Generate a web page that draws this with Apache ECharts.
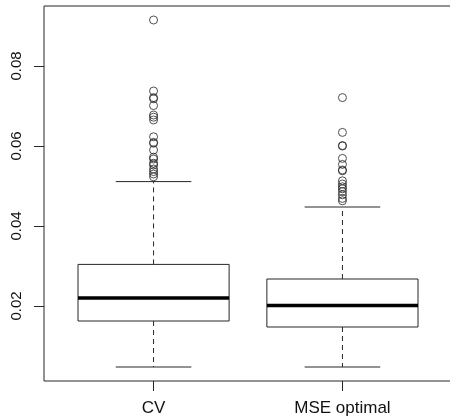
<!DOCTYPE html>
<html>
<head>
<meta charset="utf-8">
<script src="https://cdn.jsdelivr.net/npm/echarts@6/dist/echarts.min.js"></script>
<style>
  html, body { margin: 0; padding: 0; background: #fff; }
  #chart { width: 450px; height: 417px; }
</style>
</head>
<body>
<div id="chart"></div>
<script>
// Groups compared
const categories = ['CV', 'MSE optimal'];

// Five-number summaries per group: [lower whisker, Q1, median, Q3, upper whisker]
const cvStats = [0.00475, 0.01625, 0.0220, 0.0304, 0.0511];
const mseStats = [0.00475, 0.01475, 0.0201, 0.02675, 0.04475];

// Points beyond the whiskers
const cvOutliers = [0.0915, 0.07375, 0.0721, 0.0718, 0.0701, 0.06775, 0.0672, 0.0665,
  0.0623, 0.0609, 0.0607, 0.0590, 0.0572, 0.05675, 0.0557, 0.05525, 0.05425, 0.0536,
  0.0530, 0.0523];
const mseOutliers = [0.0721, 0.0634, 0.0601, 0.0600, 0.0569, 0.0554, 0.0540, 0.0538,
  0.0513, 0.0505, 0.0498, 0.0493, 0.0486, 0.0478, 0.0469, 0.0463];

// Axis ticks
const yTicks = [0.02, 0.04, 0.06, 0.08];
const xTicks = [1, 2];

const ink = '#262626';
const font = 'Liberation Sans, Arial, Helvetica, sans-serif';

const boxData = [cvStats, mseStats].map((s, i) => [i + 1].concat(s));
const outlierData = []
  .concat(cvOutliers.map(v => [1, v]))
  .concat(mseOutliers.map(v => [2, v]));

function renderBox(params, api) {
  const x = api.value(0);
  const lo = api.value(1), q1 = api.value(2), med = api.value(3), q3 = api.value(4), hi = api.value(5);
  const halfBox = api.size([0.4, 0])[0];
  const halfCap = api.size([0.2, 0])[0];
  const c = api.coord([x, 0])[0];
  const y = v => api.coord([x, v])[1];
  const line = (x1, y1, x2, y2, style) => ({
    type: 'line',
    shape: { x1, y1, x2, y2 },
    style: Object.assign({ stroke: ink, lineWidth: 1, fill: null }, style || {})
  });
  return {
    type: 'group',
    children: [
      // whiskers (dashed) and caps
      line(c, y(q3), c, y(hi), { lineDash: [5, 4] }),
      line(c, y(q1), c, y(lo), { lineDash: [5, 4] }),
      line(c - halfCap, y(hi), c + halfCap, y(hi)),
      line(c - halfCap, y(lo), c + halfCap, y(lo)),
      // box
      {
        type: 'rect',
        shape: { x: c - halfBox, y: y(q3), width: 2 * halfBox, height: y(q1) - y(q3) },
        style: { stroke: ink, lineWidth: 1, fill: '#fff' }
      },
      // median
      line(c - halfBox, y(med), c + halfBox, y(med), { stroke: '#000', lineWidth: 3.5 })
    ]
  };
}

const chart = echarts.init(document.getElementById('chart'), null, { renderer: 'canvas' });
chart.setOption({
  animation: false,
  backgroundColor: '#fff',
  grid: {
    show: true,
    left: 44, top: 6, width: 408, height: 375,
    outerBoundsMode: 'none',
    containLabel: false,
    borderColor: ink, borderWidth: 1,
    backgroundColor: 'transparent'
  },
  xAxis: {
    type: 'value',
    min: 0.42, max: 2.58,
    splitLine: { show: false },
    axisLine: { show: false },
    axisTick: { show: true, length: 10, customValues: xTicks, lineStyle: { color: ink } },
    axisLabel: {
      customValues: xTicks,
      formatter: v => categories[Math.round(v) - 1] || '',
      margin: 19,
      color: '#111',
      fontSize: 17,
      fontFamily: font
    }
  },
  yAxis: {
    type: 'value',
    min: 0.00125, max: 0.095,
    splitLine: { show: false },
    axisLine: { show: false },
    axisTick: { show: true, length: 10, customValues: yTicks, lineStyle: { color: ink } },
    axisLabel: {
      customValues: yTicks,
      formatter: v => v.toFixed(2),
      rotate: 90,
      margin: 20,
      color: '#111',
      fontSize: 15,
      fontFamily: font
    }
  },
  series: [
    {
      type: 'custom',
      renderItem: renderBox,
      data: boxData,
      encode: { x: 0, y: [1, 2, 3, 4, 5] },
      z: 2
    },
    {
      type: 'scatter',
      data: outlierData,
      symbol: 'circle',
      symbolSize: 8,
      itemStyle: { color: 'rgba(255,255,255,0)', borderColor: ink, borderWidth: 1 },
      z: 3
    }
  ]
});
</script>
</body>
</html>
